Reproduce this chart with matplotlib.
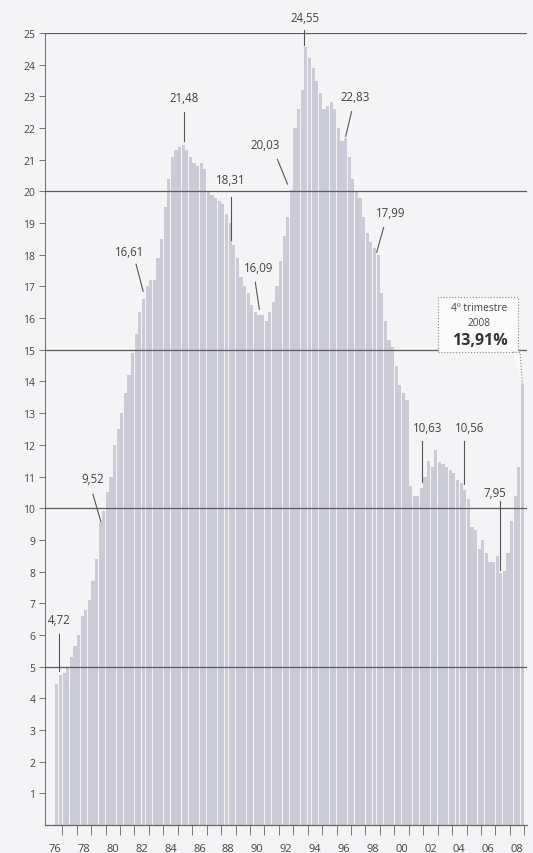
import numpy as np
import matplotlib.pyplot as plt
from matplotlib.patches import Rectangle, Polygon

plt.rcParams['font.family'] = ['Open Sans', 'DejaVu Sans']

# quarterly unemployment rate (%), 1976 Q3 .. 2008 Q4
rates = [
    4.45, 4.72,                  # 1976 (Q3, Q4)
    4.80, 5.00, 5.30, 5.65,      # 1977
    6.00, 6.60, 6.80, 7.10,      # 1978
    7.70, 8.40, 9.52, 9.90,      # 1979
    10.50, 11.00, 12.00, 12.50,  # 1980
    13.00, 13.65, 14.20, 14.90,  # 1981
    15.50, 16.20, 16.61, 17.00,  # 1982
    17.20, 17.20, 17.90, 18.50,  # 1983
    19.50, 20.40, 21.10, 21.30,  # 1984
    21.40, 21.48, 21.30, 21.10,  # 1985
    20.90, 20.80, 20.90, 20.70,  # 1986
    20.00, 19.90, 19.80, 19.70,  # 1987
    19.60, 19.30, 19.00, 18.31,  # 1988
    17.90, 17.30, 17.00, 16.80,  # 1989
    16.40, 16.20, 16.09, 16.10,  # 1990
    15.90, 16.20, 16.50, 17.00,  # 1991
    17.80, 18.60, 19.20, 20.03,  # 1992
    22.00, 22.60, 23.20, 24.55,  # 1993
    24.20, 23.90, 23.50, 23.10,  # 1994
    22.60, 22.70, 22.83, 22.60,  # 1995
    22.00, 21.60, 21.70, 21.10,  # 1996
    20.40, 20.00, 19.80, 19.20,  # 1997
    18.70, 18.40, 18.20, 17.99,  # 1998
    16.80, 15.90, 15.30, 15.10,  # 1999
    14.50, 13.90, 13.65, 13.40,  # 2000
    10.70, 10.40, 10.40, 10.63,  # 2001
    11.00, 11.50, 11.30, 11.85,  # 2002
    11.45, 11.40, 11.30, 11.20,  # 2003
    11.10, 10.90, 10.80, 10.56,  # 2004
    10.30, 9.40, 9.30, 8.70,     # 2005
    9.00, 8.60, 8.30, 8.30,      # 2006
    8.50, 7.95, 8.03, 8.60,      # 2007
    9.60, 10.40, 11.30, 13.91,   # 2008
]
start_year = 1976.5  # first quarter shown is Q3 1976
year_labels = ['76', '78', '80', '82', '84', '86', '88', '90', '92', '94',
               '96', '98', '00', '02', '04', '06', '08']

# quarters carrying a value label
labelled = [1, 12, 24, 35, 49, 56, 65, 69, 76, 89, 101, 113, 123]
# (text x, text y, line x0, line y0, line x1, line y1)
label_layout = [
    (1976.76, 6.50, 1976.76, 6.03, 1976.76, 4.86),
    (1979.12, 10.95, 1979.12, 10.44, 1979.68, 9.56),
    (1981.69, 18.11, 1982.11, 17.70, 1982.60, 16.85),
    (1985.44, 22.97, 1985.44, 22.52, 1985.44, 21.58),
    (1988.64, 20.38, 1988.71, 19.81, 1988.71, 18.45),
    (1990.58, 17.60, 1990.37, 17.13, 1990.65, 16.28),
    (1991.07, 21.48, 1991.90, 21.01, 1992.60, 20.23),
    (1993.78, 25.49, 1993.71, 25.11, 1993.71, 24.61),
    (1997.26, 23.00, 1997.04, 22.52, 1996.63, 21.74),
    (1999.75, 19.34, 1999.26, 18.86, 1998.78, 18.08),
    (2002.32, 12.56, 2001.90, 12.11, 2001.90, 10.82),
    (2005.24, 12.56, 2004.82, 12.11, 2004.82, 10.76),
    (2006.98, 10.50, 2007.33, 10.22, 2007.33, 8.04),
]

rates = np.array(rates)
t = start_year + 0.125 + 0.25 * np.arange(len(rates))

fig = plt.figure(figsize=(5.33, 8.54), dpi=100)
fig.patch.set_facecolor('#f4f4f6')
ax = fig.add_axes([0.0844, 0.0328, 0.9046, 0.9274])
ax.set_facecolor('#f4f4f6')

ax.bar(t, rates, width=0.22, color='#cacbd4', linewidth=0, zorder=2)

for g in [5, 10, 15, 20, 25]:
    ax.axhline(g, color='#5a5a5a', lw=0.9, zorder=3)

ax.set_xlim(1975.8, 2009.2)
ax.set_ylim(0, 25)

for s in ['top', 'right']:
    ax.spines[s].set_visible(False)
ax.spines['left'].set_color('#777777')
ax.spines['bottom'].set_color('#666666')
ax.spines['left'].set_linewidth(0.8)
ax.spines['bottom'].set_linewidth(0.9)

ax.set_yticks(range(1, 26))
ax.set_yticklabels([str(i) for i in range(1, 26)])
ax.tick_params(axis='y', length=4, width=0.7, color='#777777',
               labelsize=7.5, labelcolor='#444444', pad=3)

ax.set_xticks(np.arange(1977, 2010))
ax.set_xticklabels([])
ax.set_xticks(np.arange(len(year_labels)) * 2 + 1976.5, minor=True)
ax.set_xticklabels(year_labels, minor=True)
ax.tick_params(axis='x', which='major', length=7, width=0.7, color='#777777')
ax.tick_params(axis='x', which='minor', length=0, labelsize=8,
               labelcolor='#444444', pad=13)

for i, (tx, ty, x0, y0, x1, y1) in zip(labelled, label_layout):
    txt = '{:.2f}'.format(rates[i]).replace('.', ',')
    ax.text(tx, ty, txt, ha='center', va='center', fontsize=8.3,
            color='#444444', zorder=5, clip_on=False)
    ax.plot([x0, x1], [y0, y1], color='#555555', lw=0.8, zorder=5,
            clip_on=False)

# callout for the last quarter
box = Rectangle((2003.0, 14.92), 5.57, 1.74, facecolor='#fafafb',
                edgecolor='#888888', lw=0.8, ls=':', zorder=6)
ax.add_patch(box)
tail = Polygon([(2008.22, 14.92), (2008.71, 14.92), (t[-1], rates[-1])],
               closed=False, facecolor='#fafafb', edgecolor='#888888',
               lw=0.8, ls=':', zorder=6)
ax.add_patch(tail)
ax.text(2005.9, 16.34, '4º trimestre', ha='center', va='center',
        fontsize=7.3, color='#444444', zorder=7)
ax.text(2005.9, 15.87, '2008', ha='center', va='center',
        fontsize=7.3, color='#444444', zorder=7)
ax.text(2005.9, 15.30, '{:.2f}%'.format(rates[-1]).replace('.', ','),
        ha='center', va='center', fontsize=11.5, fontweight='bold',
        color='#333333', zorder=7)

fig.savefig('out.png', dpi=100, facecolor=fig.get_facecolor())
